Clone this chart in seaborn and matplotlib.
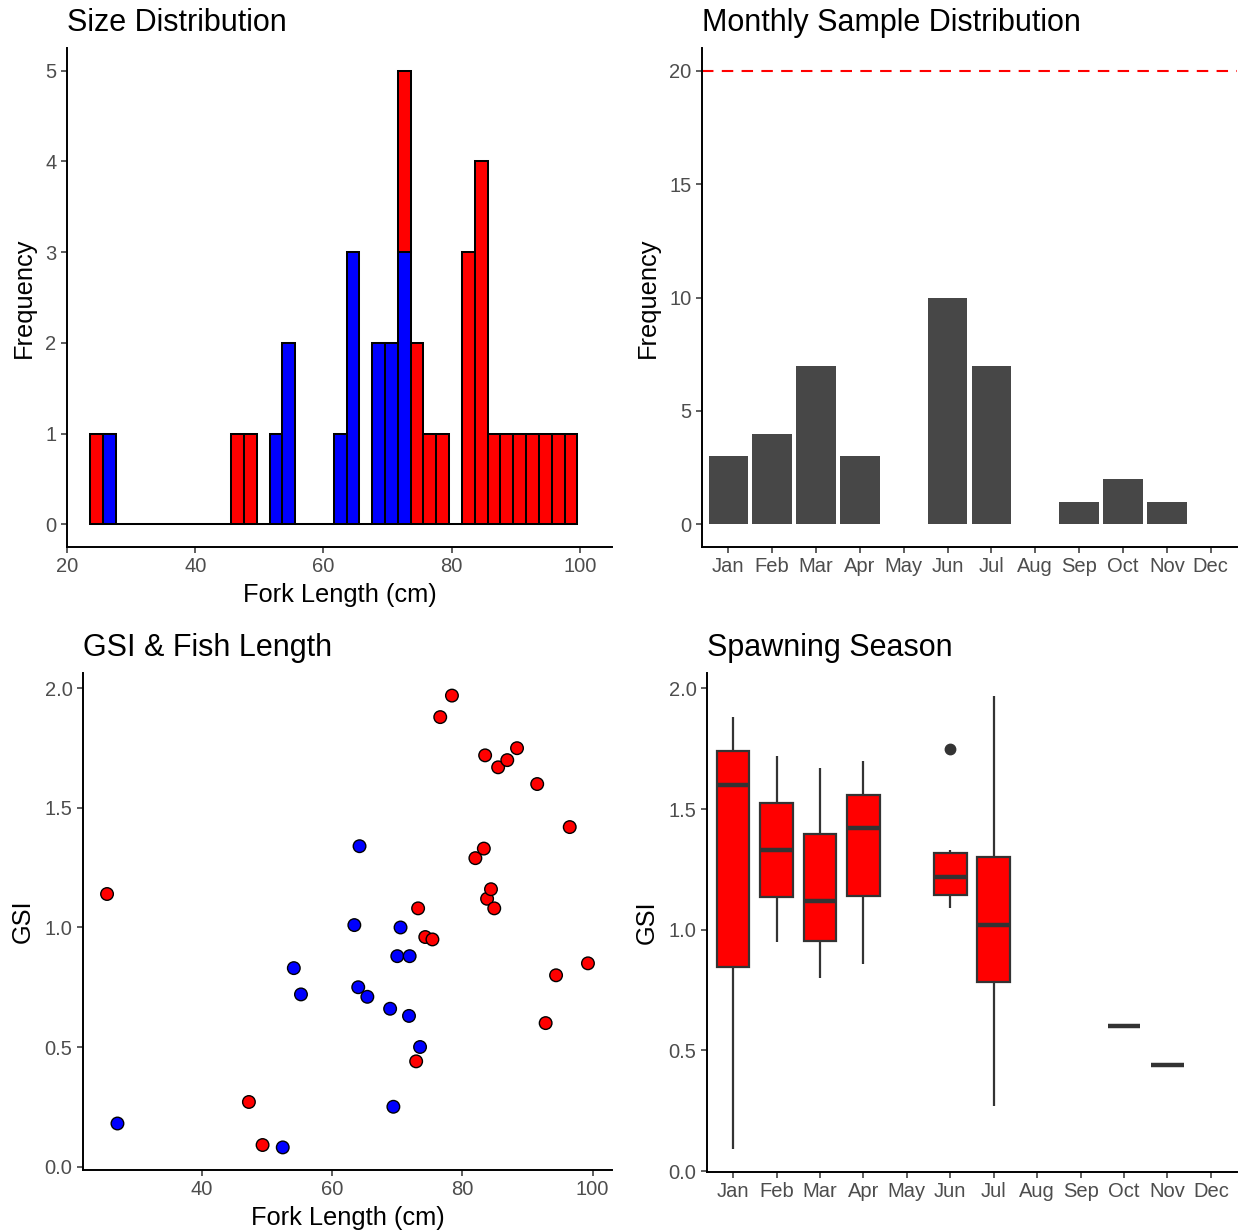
import numpy as np
import pandas as pd
import matplotlib
matplotlib.use("Agg")
import matplotlib.pyplot as plt
import seaborn as sns

# ---------------- data ----------------
sex_levels = ["Female", "Male"]
sex_colors = ["#FF0000", "#0000FF"]

female_length = [25.4, 47.2, 49.3, 72.9, 73.2, 74.3, 75.4, 76.6, 78.4, 82.0, 83.3, 83.5,
                 83.8, 84.4, 84.9, 85.5, 86.9, 88.4, 91.5, 92.8, 94.4, 96.5, 99.3]
female_gsi = [1.14, 0.27, 0.09, 0.44, 1.08, 0.96, 0.95, 1.88, 1.97, 1.29, 1.33, 1.72,
              1.12, 1.16, 1.08, 1.67, 1.70, 1.75, 1.60, 0.60, 0.80, 1.42, 0.85]
male_length = [27.0, 52.4, 54.1, 55.2, 63.4, 64.2, 64.0, 65.4, 68.9, 69.4, 70.0, 70.5,
               71.9, 71.8, 73.5]
male_gsi = [0.18, 0.08, 0.83, 0.72, 1.01, 1.34, 0.75, 0.71, 0.66, 0.25, 0.88, 1.00,
            0.88, 0.63, 0.50]

months = ["Jan", "Feb", "Mar", "Apr", "May", "Jun", "Jul", "Aug", "Sep", "Oct", "Nov", "Dec"]
monthly_counts = [3, 4, 7, 3, 0, 10, 7, 0, 1, 2, 1, 0]
sample_target = 20

gsi_jan = [0.09, 1.60, 1.88]
gsi_feb = [0.95, 1.20, 1.46, 1.72]
gsi_mar = [0.80, 0.90, 1.01, 1.12, 1.29, 1.50, 1.67]
gsi_apr = [0.86, 1.42, 1.70]
gsi_jun = [1.09, 1.12, 1.13, 1.18, 1.21, 1.23, 1.29, 1.33, 1.33, 1.75]
gsi_jul = [0.27, 0.72, 0.85, 1.02, 1.18, 1.42, 1.97]
gsi_oct = [0.60, 0.60]
gsi_nov = [0.44]

hist_binwidth = 2.0
hist_start = 23.6
hist_stop = 99.6

# ---------------- frames ----------------
fish = pd.DataFrame({
    "length": female_length + male_length,
    "gsi": female_gsi + male_gsi,
    "sex": [sex_levels[0]] * len(female_length) + [sex_levels[1]] * len(male_length),
})
palette = dict(zip(sex_levels, sex_colors))

box_groups = {"Jan": gsi_jan, "Feb": gsi_feb, "Mar": gsi_mar, "Apr": gsi_apr,
              "Jun": gsi_jun, "Jul": gsi_jul, "Oct": gsi_oct, "Nov": gsi_nov}
box_df = pd.DataFrame([(m, v) for m, vals in box_groups.items() for v in vals],
                      columns=["month", "gsi"])
month_df = pd.DataFrame({"month": months, "count": monthly_counts})

# ---------------- style ----------------
sns.set_style("ticks")
plt.rcParams["font.family"] = ["Liberation Sans", "DejaVu Sans"]

W, H = 1242, 1232
fig = plt.figure(figsize=(W / 100, H / 100), dpi=100)


def panel(l, t, r, b):
    return fig.add_axes([l / W, 1 - b / H, (r - l) / W, (b - t) / H])


TICK = 14.5
LAB = 18.3
TIT = 22


def style(ax, title, xlabel=None, ylabel=None):
    for s in ["top", "right"]:
        ax.spines[s].set_visible(False)
    for s in ["left", "bottom"]:
        ax.spines[s].set_linewidth(1.4)
        ax.spines[s].set_color("black")
    ax.tick_params(direction="out", length=4.5, width=1.1, color="#333333",
                   labelcolor="#4D4D4D", labelsize=TICK, pad=3)
    ax.set_title(title, loc="left", fontsize=TIT, color="black", pad=12)
    ax.set_xlabel(xlabel if xlabel else "", fontsize=LAB, color="black", labelpad=5)
    ax.set_ylabel(ylabel if ylabel else "", fontsize=LAB, color="black", labelpad=7)
    ax.grid(False)


# ---- Size Distribution ----
ax1 = panel(67, 48, 612, 547)
edges = np.arange(hist_start, hist_stop + hist_binwidth / 2, hist_binwidth)
sns.histplot(data=fish, x="length", hue="sex", hue_order=sex_levels, palette=palette,
             bins=edges, multiple="stack", edgecolor="black", linewidth=1.45,
             alpha=1, legend=False, ax=ax1)
ax1.set_xlim(20, 105)
ax1.set_ylim(-0.25, 5.25)
ax1.set_xticks([20, 40, 60, 80, 100])
ax1.set_yticks(range(0, 6))
style(ax1, "Size Distribution", "Fork Length (cm)", "Frequency")

# ---- Monthly Sample Distribution ----
ax2 = panel(702, 48, 1237, 547)
sns.barplot(data=month_df, x="month", y="count", order=months, color="#474747",
            saturation=1, width=0.9, linewidth=0, errorbar=None, ax=ax2)
ax2.axhline(sample_target, color="#FF0000", lw=1.5, ls=(0, (5.5, 4.0)))
ax2.set_xlim(-0.6, len(months) - 0.4)
ax2.set_ylim(-1, 21)
ax2.set_yticks([0, 5, 10, 15, 20])
style(ax2, "Monthly Sample Distribution", None, "Frequency")

# ---- GSI & Fish Length ----
ax3 = panel(83, 673, 612, 1170)
sns.scatterplot(data=fish, x="length", y="gsi", hue="sex", hue_order=sex_levels,
                palette=palette, s=82, edgecolor="black", linewidth=1.0,
                legend=False, ax=ax3)
xr = fish["length"].max() - fish["length"].min()
yr = fish["gsi"].max() - fish["gsi"].min()
ax3.set_xlim(fish["length"].min() - 0.05 * xr, fish["length"].max() + 0.05 * xr)
ax3.set_ylim(fish["gsi"].min() - 0.05 * yr, fish["gsi"].max() + 0.05 * yr)
ax3.set_xticks([40, 60, 80, 100])
ax3.set_yticks([0.0, 0.5, 1.0, 1.5, 2.0])
ax3.set_yticklabels(["0.0", "0.5", "1.0", "1.5", "2.0"])
style(ax3, "GSI & Fish Length", "Fork Length (cm)", "GSI")

# ---- Spawning Season ----
ax4 = panel(707, 673, 1237, 1172)
sns.boxplot(data=box_df, x="month", y="gsi", order=months, color="#FF0000",
            saturation=1, width=0.75, linecolor="#333333", linewidth=1.6,
            showcaps=False,
            flierprops=dict(marker="o", markerfacecolor="#333333",
                            markeredgecolor="#333333", markersize=7.5),
            medianprops=dict(linewidth=3.2, color="#333333"),
            ax=ax4)
br = box_df["gsi"].max() - box_df["gsi"].min()
ax4.set_ylim(box_df["gsi"].min() - 0.05 * br, box_df["gsi"].max() + 0.05 * br)
ax4.set_xlim(-0.6, len(months) - 0.4)
ax4.set_yticks([0.0, 0.5, 1.0, 1.5, 2.0])
ax4.set_yticklabels(["0.0", "0.5", "1.0", "1.5", "2.0"])
style(ax4, "Spawning Season", None, "GSI")

fig.savefig("out.png", dpi=100)
